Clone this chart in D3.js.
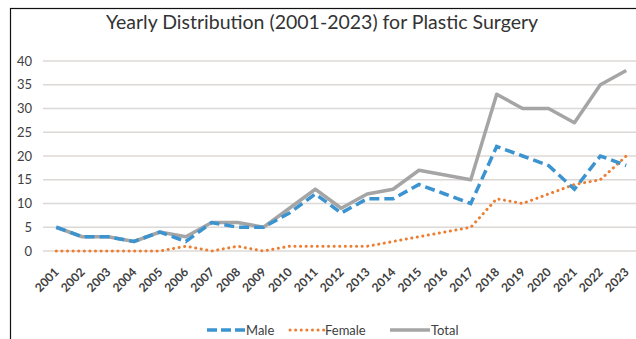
<!DOCTYPE html>
<html>
<head>
<meta charset="utf-8">
<script src="https://cdn.jsdelivr.net/npm/d3@7"></script>
<style>
  html, body { margin: 0; padding: 0; background: #fff; }
  svg { display: block; }
  text { font-family: Lato, "Open Sans", sans-serif; fill: #404040; }
</style>
</head>
<body>
<svg id="chart" width="636" height="339"></svg>
<script>
const years = ["2001","2002","2003","2004","2005","2006","2007","2008","2009","2010","2011","2012","2013","2014","2015","2016","2017","2018","2019","2020","2021","2022","2023"];
const male   = [5,3,3,2,4,2,6,5,5,8,12,8,11,11,14,12,10,22,20,18,13,20,18];
const female = [0,0,0,0,0,1,0,1,0,1,1,1,1,2,3,4,5,11,10,12,14,15,20];
const total  = [5,3,3,2,4,3,6,6,5,9,13,9,12,13,17,16,15,33,30,30,27,35,38];
const yTicks = [0,5,10,15,20,25,30,35,40];
const title = "Yearly Distribution (2001-2023) for Plastic Surgery";

const svg = d3.select("#chart");

// frame
svg.append("rect").attr("x", 10.5).attr("y", 8.5).attr("width", 700).attr("height", 400)
  .attr("fill", "none").attr("stroke", "#111").attr("stroke-width", 1.2);

svg.append("text").attr("x", 322).attr("y", 29).attr("text-anchor", "middle")
  .attr("font-size", 19.5).style("fill", "#333").text(title);

const x = d3.scalePoint().domain(years).range([43.3, 639.2]).padding(0.5);
const y = d3.scaleLinear().domain([0, 40]).range([251, 61]);

// gridlines
svg.append("g").selectAll("line").data(yTicks).join("line")
  .attr("x1", 43).attr("x2", 640)
  .attr("y1", d => y(d)).attr("y2", d => y(d))
  .attr("stroke", "#dcd8d6").attr("stroke-width", 1.5);

// y axis labels
const yAxis = d3.axisLeft(y).tickValues(yTicks).tickSize(0).tickPadding(0);
const gy = svg.append("g").attr("transform", "translate(32,0)").call(yAxis);
gy.select(".domain").remove();
gy.selectAll("text").attr("font-size", 13).style("font-family", "Lato, sans-serif").style("fill", "#404040");

// x axis labels
const xAxis = d3.axisBottom(x).tickSize(0).tickPadding(0);
const gx = svg.append("g").attr("transform", "translate(0,262)").call(xAxis);
gx.select(".domain").remove();
gx.selectAll("text")
  .attr("font-size", 12).attr("font-weight", "bold")
  .style("font-family", "Lato, sans-serif").style("fill", "#404040")
  .attr("text-anchor", "end").attr("dy", "0.7em").attr("dx", "0")
  .attr("transform", "translate(-3,5) rotate(-45)");

const line = d3.line().x((d, i) => x(years[i])).y(d => y(d));

svg.append("path").datum(female).attr("d", line).attr("fill", "none")
  .attr("stroke", "#ed7d31").attr("stroke-width", 3).attr("stroke-linecap", "round")
  .attr("stroke-dasharray", "0.1,5.5");
svg.append("path").datum(total).attr("d", line).attr("fill", "none")
  .attr("stroke", "#a5a5a5").attr("stroke-width", 3.5).attr("stroke-linejoin", "round");
svg.append("path").datum(male).attr("d", line).attr("fill", "none")
  .attr("stroke", "#3b93d0").attr("stroke-width", 3.5)
  .attr("stroke-dasharray", "10,5");

// legend
const legend = [
  {name: "Male", color: "#3b93d0", dash: "10,4", w: 3.5, cap: "butt", x1: 207, x2: 245},
  {name: "Female", color: "#ed7d31", dash: "0.1,5.5", w: 3, cap: "round", x1: 290, x2: 324},
  {name: "Total", color: "#a5a5a5", dash: null, w: 3.5, cap: "butt", x1: 390, x2: 430}
];
const lg = svg.append("g");
legend.forEach(l => {
  lg.append("line").attr("x1", l.x1).attr("x2", l.x2).attr("y1", 330).attr("y2", 330)
    .attr("stroke", l.color).attr("stroke-width", l.w).attr("stroke-linecap", l.cap)
    .attr("stroke-dasharray", l.dash);
  lg.append("text").attr("x", l.x2 + 1).attr("y", 330).attr("dy", "0.35em")
    .attr("font-size", 13).text(l.name);
});
</script>
</body>
</html>
